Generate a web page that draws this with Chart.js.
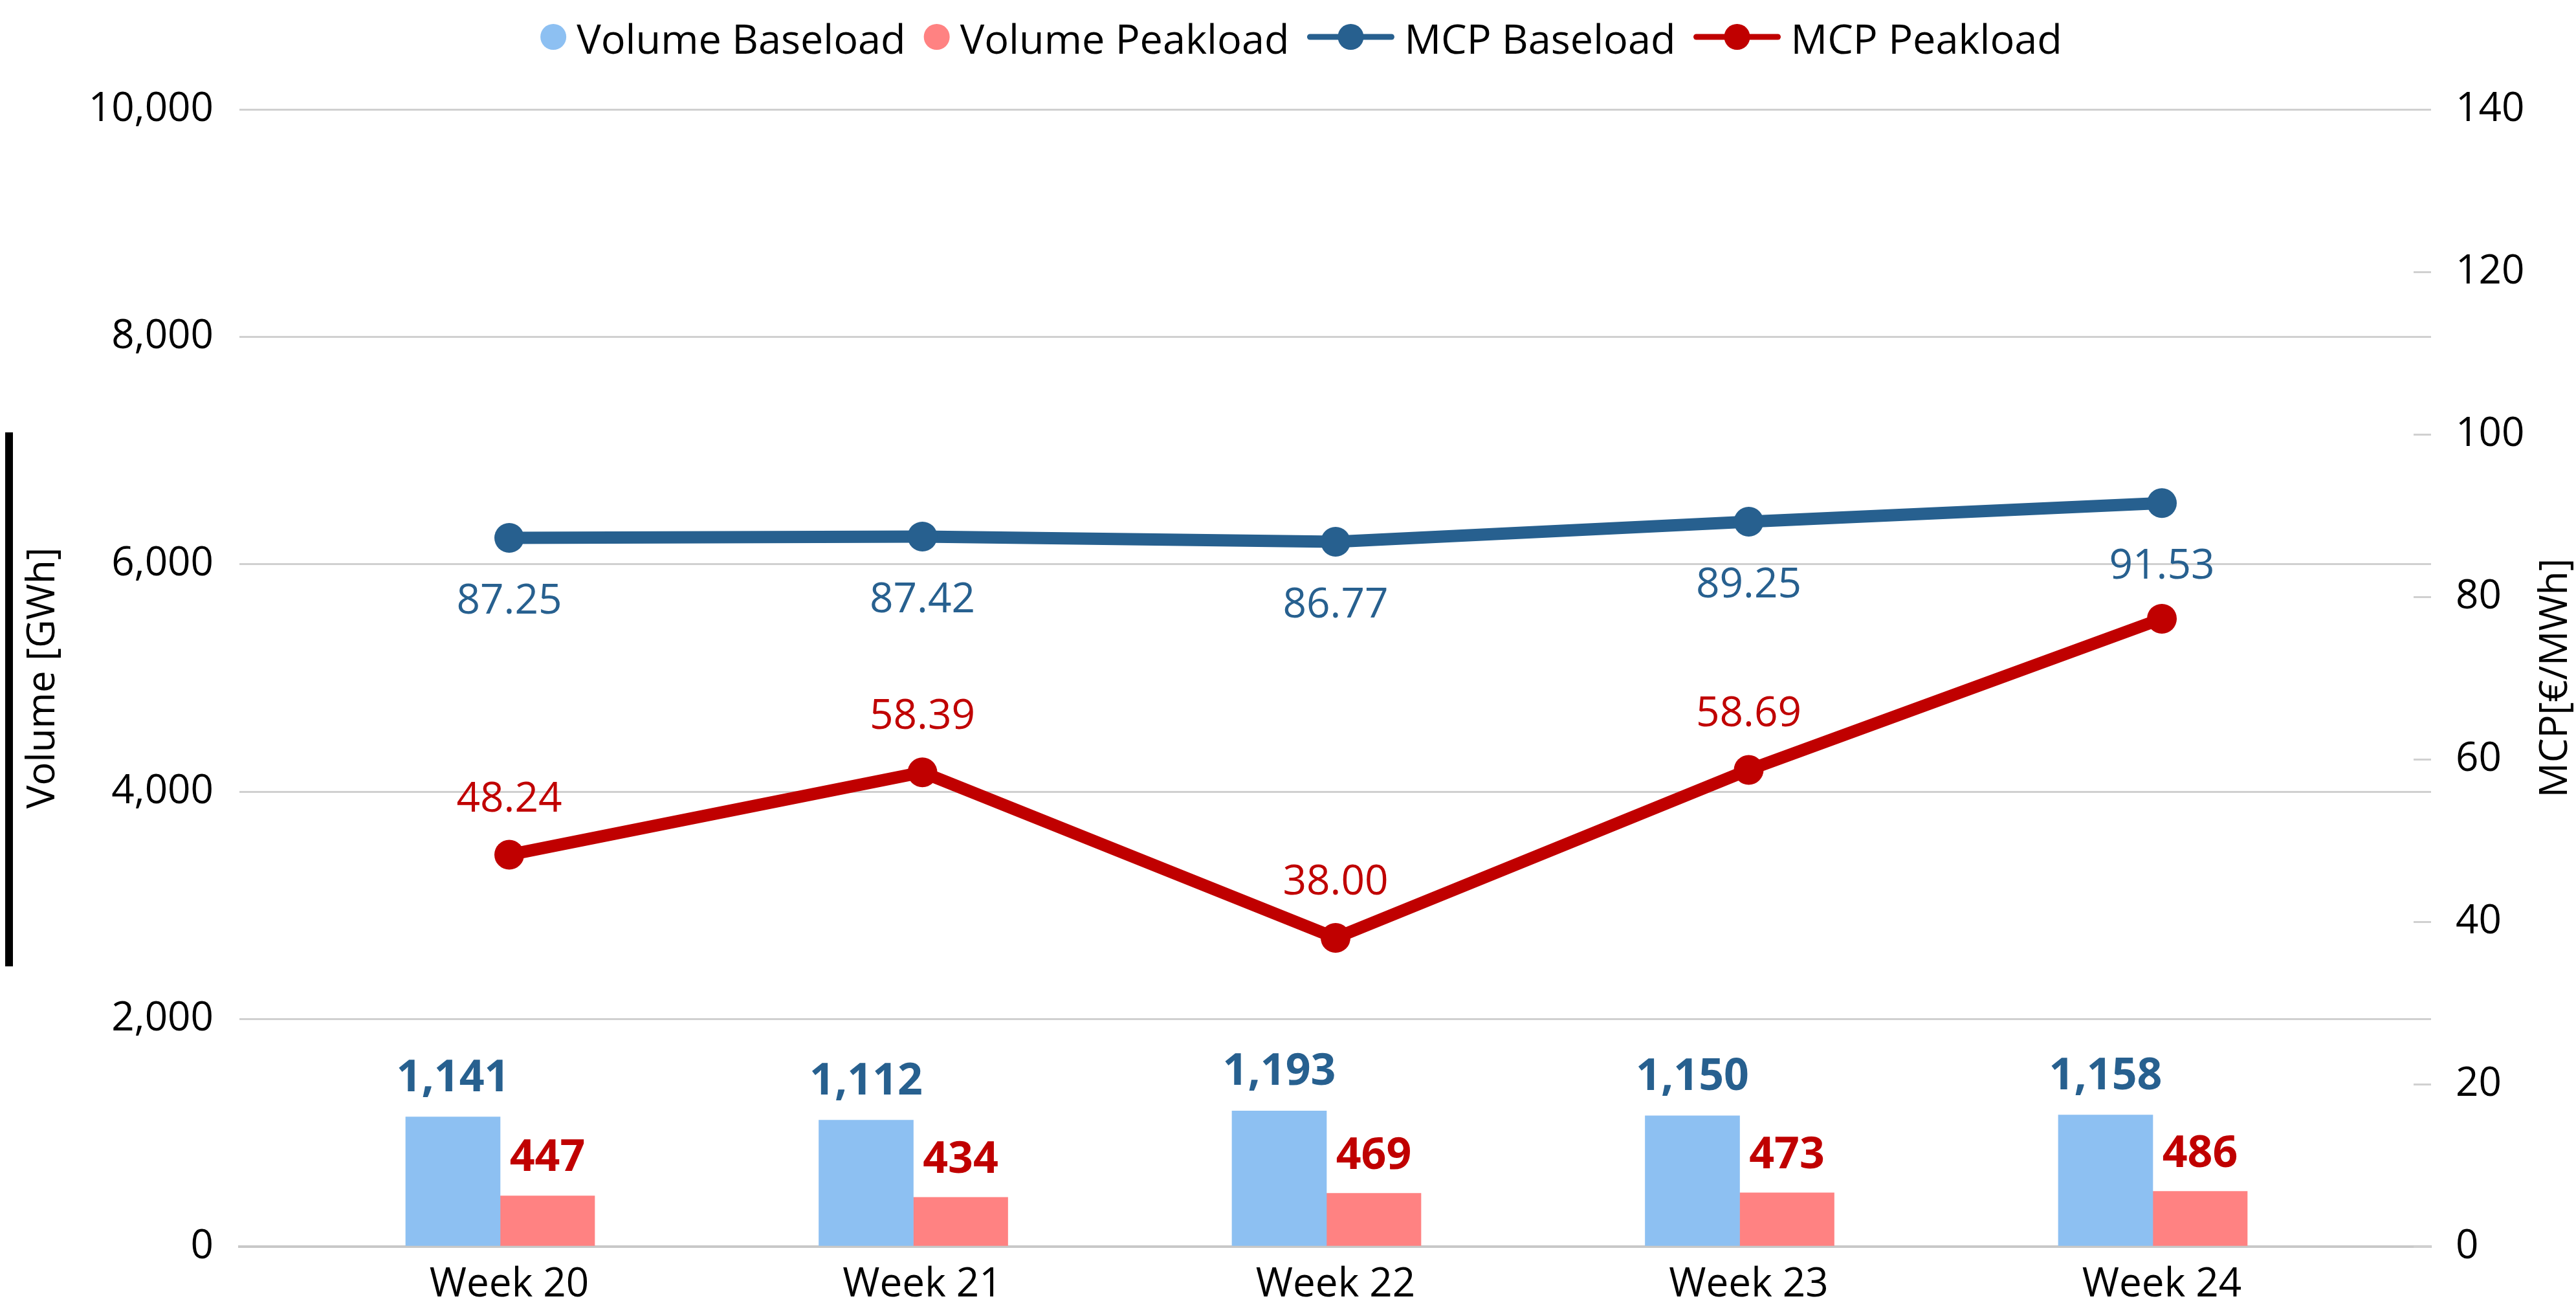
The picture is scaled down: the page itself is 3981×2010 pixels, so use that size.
<!DOCTYPE html>
<html>
<head>
<meta charset="utf-8">
<script src="https://cdn.jsdelivr.net/npm/chart.js@4.4.1/dist/chart.umd.min.js"></script>
<style>
html,body{margin:0;padding:0;background:#fff;}
canvas{display:block;}
</style>
</head>
<body>
<canvas id="c" width="3981" height="2010"></canvas>
<script>
// ---- data ----
const categories = ['Week 20', 'Week 21', 'Week 22', 'Week 23', 'Week 24'];
const volumeBaseload = [1141, 1112, 1193, 1150, 1158];
const volumePeakload = [447, 434, 469, 473, 486];
const mcpBaseload = [87.25, 87.42, 86.77, 89.25, 91.53];
const mcpPeakload = [48.24, 58.39, 38.00, 58.69, 77.3];
const mcpPeakloadLabelShown = [true, true, true, true, false];
const volumeTicks = [0, 2000, 4000, 6000, 8000, 10000];
const mcpTicks = [0, 20, 40, 60, 80, 100, 120, 140];
const seriesNames = ['Volume Baseload', 'Volume Peakload', 'MCP Baseload', 'MCP Peakload'];
const axisTitles = ['Volume [GWh]', 'MCP[€/MWh]'];

// ---- styles ----
const COL = {
  barBlue: '#8dc0f2', barRed: '#ff8282',
  lineBlue: '#27608f', lineRed: '#c00000',
  grid: '#d0d0d0', axis: '#c8c8c8', text: '#000000'
};
const FONT = '"Open Sans", "Noto Sans", sans-serif';

const pts = vals => vals.map((v, i) => ({x: i, y: v}));
const intTicks = s => { s.ticks = categories.map((_, i) => ({value: i})); };
// hidden index axes used to place the two bar series side by side
const hiddenX = (min, max) => ({
  type: 'linear', position: 'bottom', display: true, min, max, weight: 0, offset: false,
  afterBuildTicks: intTicks,
  afterFit: s => { s.height = 0; },
  ticks: {display: false},
  grid: {display: false, drawTicks: false, offset: false},
  border: {display: false}
});

const decorPlugin = {
  id: 'decor',
  beforeDatasetsDraw(chart) {
    const ctx = chart.ctx, s = chart.scales.y1, r = chart.chartArea.right;
    ctx.save();
    ctx.strokeStyle = COL.grid; ctx.lineWidth = 3;
    s.ticks.forEach(t => {
      const y = Math.round(s.getPixelForValue(t.value)) + 0.5;
      ctx.beginPath(); ctx.moveTo(r - 27, y); ctx.lineTo(r, y); ctx.stroke();
    });
    ctx.restore();
  },
  afterDatasetsDraw(chart) {
    const ctx = chart.ctx;
    ctx.save();
    ctx.textAlign = 'center'; ctx.textBaseline = 'alphabetic';
    // bar labels
    ctx.font = 'bold 68px ' + FONT;
    [[0, volumeBaseload, COL.lineBlue, 40], [1, volumePeakload, COL.lineRed, 38]].forEach(([di, vals, col, off]) => {
      ctx.fillStyle = col;
      chart.getDatasetMeta(di).data.forEach((el, i) => {
        ctx.fillText(vals[i].toLocaleString('en-US'), el.x, el.y - off);
      });
    });
    // line labels
    ctx.font = '64px ' + FONT;
    ctx.fillStyle = COL.lineBlue;
    chart.getDatasetMeta(2).data.forEach((el, i) => {
      ctx.fillText(mcpBaseload[i].toFixed(2), el.x, el.y + 117);
    });
    ctx.fillStyle = COL.lineRed;
    chart.getDatasetMeta(3).data.forEach((el, i) => {
      if (mcpPeakloadLabelShown[i]) ctx.fillText(mcpPeakload[i].toFixed(2), el.x, el.y - 67);
    });
    ctx.restore();
  },
  afterDraw(chart) {
    const ctx = chart.ctx, ca = chart.chartArea;
    ctx.save();
    // left black bar
    ctx.fillStyle = '#000';
    ctx.fillRect(8, 668, 12, 825);
    // right axis title (reads bottom-to-top)
    ctx.font = '60px ' + FONT;
    ctx.fillStyle = COL.text;
    ctx.textAlign = 'center'; ctx.textBaseline = 'middle';
    ctx.translate(chart.width - 31, (ca.top + ca.bottom) / 2);
    ctx.rotate(-Math.PI / 2);
    ctx.fillText(axisTitles[1], 0, 0);
    ctx.restore();

    // legend
    ctx.save();
    ctx.font = '63px ' + FONT;
    const types = chart.data.datasets.map(d => d.type);
    const colors = chart.data.datasets.map(d => d.type === 'bar' ? d.backgroundColor : d.borderColor);
    const markerW = types.map(t => t === 'bar' ? 40 : 134);
    const gapMT = 16, gapItem = 28;
    const textW = seriesNames.map(n => ctx.measureText(n).width);
    let total = 0;
    seriesNames.forEach((n, i) => { total += markerW[i] + gapMT + textW[i] + (i < seriesNames.length - 1 ? gapItem : 0); });
    let x = 2011 - total / 2;
    const cy = 57;
    seriesNames.forEach((n, i) => {
      ctx.fillStyle = colors[i];
      if (types[i] === 'bar') {
        ctx.beginPath(); ctx.arc(x + 20, cy, 20, 0, Math.PI * 2); ctx.fill();
      } else {
        ctx.strokeStyle = colors[i]; ctx.lineWidth = 9; ctx.lineCap = 'round';
        ctx.beginPath(); ctx.moveTo(x + 4, cy); ctx.lineTo(x + 130, cy); ctx.stroke();
        ctx.beginPath(); ctx.arc(x + 67, cy, 20, 0, Math.PI * 2); ctx.fill();
      }
      x += markerW[i] + gapMT;
      ctx.fillStyle = COL.text;
      ctx.textAlign = 'left'; ctx.textBaseline = 'alphabetic';
      ctx.fillText(n, x, 83);
      x += textW[i] + gapItem;
    });
    ctx.restore();
  }
};

function build() {
  new Chart(document.getElementById('c'), {
    data: {
      datasets: [
        {type: 'bar', label: seriesNames[0], data: pts(volumeBaseload), backgroundColor: COL.barBlue,
         xAxisID: 'xb', yAxisID: 'y', barThickness: 146, grouped: false, order: 2},
        {type: 'bar', label: seriesNames[1], data: pts(volumePeakload), backgroundColor: COL.barRed,
         xAxisID: 'xp', yAxisID: 'y', barThickness: 146, grouped: false, order: 2},
        {type: 'line', label: seriesNames[2], data: pts(mcpBaseload), borderColor: COL.lineBlue, backgroundColor: COL.lineBlue,
         borderWidth: 19, pointRadius: 23, pointHoverRadius: 23, pointBorderWidth: 0, xAxisID: 'x', yAxisID: 'y1', order: 1},
        {type: 'line', label: seriesNames[3], data: pts(mcpPeakload), borderColor: COL.lineRed, backgroundColor: COL.lineRed,
         borderWidth: 19, pointRadius: 23, pointHoverRadius: 23, pointBorderWidth: 0, xAxisID: 'x', yAxisID: 'y1', order: 1}
      ]
    },
    options: {
      responsive: false,
      devicePixelRatio: 1,
      animation: false,
      layout: {padding: {top: 169, left: 0, right: 0, bottom: 0}},
      plugins: {legend: {display: false}, tooltip: {enabled: false}},
      scales: {
        x: {
          type: 'linear', position: 'bottom', min: -0.6531, max: 4.6515, weight: 1, offset: false,
          afterBuildTicks: intTicks,
          afterFit: s => { s.height = 84; },
          ticks: {callback: v => categories[v], font: {size: 62, family: FONT}, color: COL.text, padding: 22, autoSkip: false, maxRotation: 0},
          grid: {display: false, drawTicks: false, offset: false},
          border: {display: true, color: COL.axis, width: 4}
        },
        xb: hiddenX(-0.5168, 4.7878),
        xp: hiddenX(-0.7455, 4.5591),
        y: {
          type: 'linear', position: 'left', min: 0, max: 10000,
          afterBuildTicks: s => { s.ticks = volumeTicks.map(v => ({value: v})); },
          afterFit: s => { s.width = 370; },
          ticks: {callback: v => v.toLocaleString('en-US'), font: {size: 62, family: FONT}, color: COL.text, padding: 40},
          grid: {color: COL.grid, lineWidth: 3, drawTicks: false},
          border: {display: false},
          title: {display: true, text: axisTitles[0], font: {size: 60, family: FONT}, color: COL.text, padding: {top: 31, bottom: 0}}
        },
        y1: {
          type: 'linear', position: 'right', min: 0, max: 140,
          afterBuildTicks: s => { s.ticks = mcpTicks.map(v => ({value: v})); },
          afterFit: s => { s.width = 224; },
          ticks: {font: {size: 62, family: FONT}, color: COL.text, padding: 38},
          grid: {drawOnChartArea: false, drawTicks: false},
          border: {display: false}
        }
      }
    },
    plugins: [decorPlugin]
  });
}
if (document.fonts && document.fonts.load) {
  Promise.all([document.fonts.load('62px "Open Sans"'), document.fonts.load('bold 68px "Open Sans"')]).then(build, build);
} else { build(); }
</script>
</body>
</html>
